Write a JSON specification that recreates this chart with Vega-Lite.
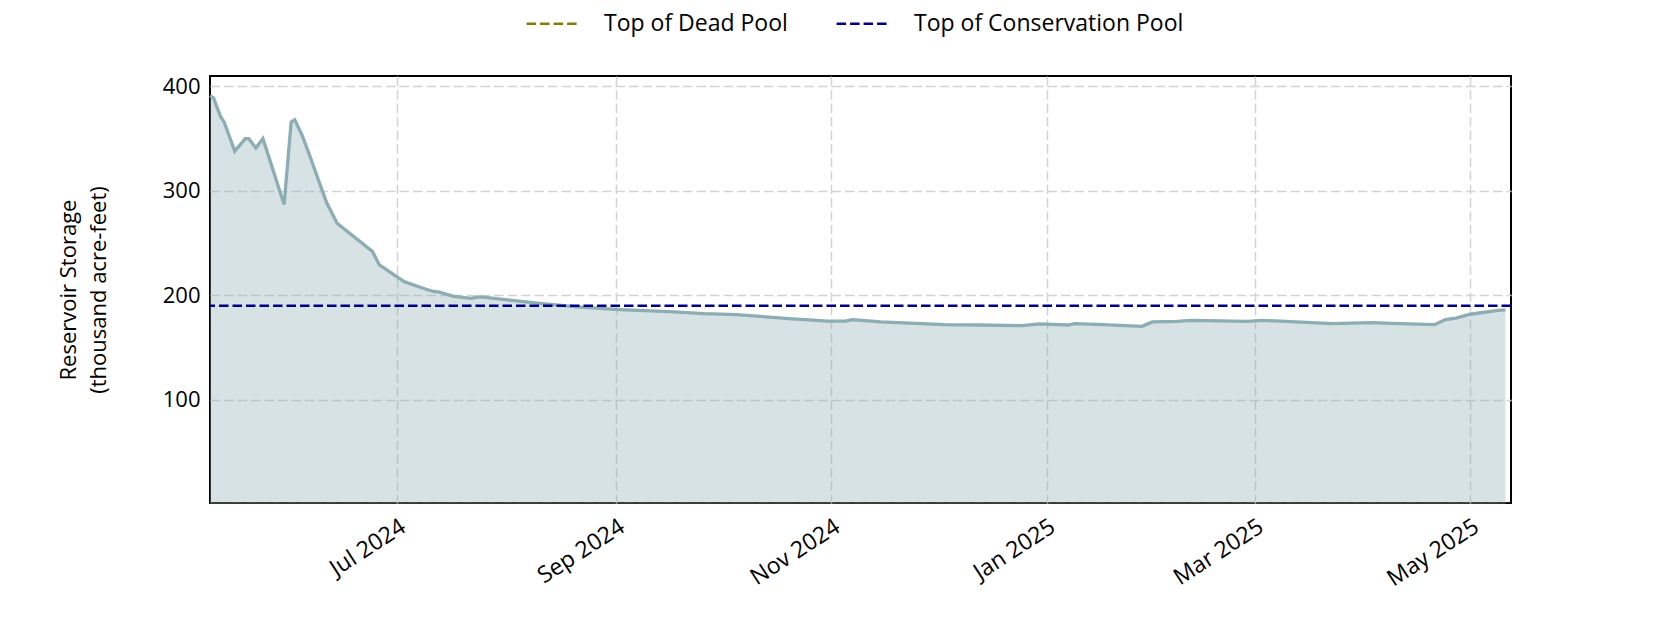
{
  "$schema": "https://vega.github.io/schema/vega-lite/v6.json",
  "autosize": {"type": "none"},
  "width": 1301,
  "height": 427,
  "padding": {"left": 210, "top": 76, "right": 169, "bottom": 127},
  "background": "white",
  "config": {
    "font": "Open Sans",
    "view": {"stroke": "black", "strokeWidth": 2},
    "axis": {"domain": false, "ticks": false, "grid": true, "gridColor": "#d3d3d3", "gridDash": [9.5, 4], "gridWidth": 1.5, "labelFont": "Open Sans", "labelFontSize": 22, "labelColor": "black", "titleFont": "Open Sans", "titleFontSize": 22, "titleFontWeight": "normal", "titleColor": "black"}
  },
  "datasets": {
    "storage": [
      {"date": "2024-05-09", "storage": 391},
      {"date": "2024-05-10", "storage": 389},
      {"date": "2024-05-12", "storage": 371},
      {"date": "2024-05-13", "storage": 366},
      {"date": "2024-05-16", "storage": 338},
      {"date": "2024-05-18", "storage": 346},
      {"date": "2024-05-19", "storage": 350},
      {"date": "2024-05-20", "storage": 350},
      {"date": "2024-05-22", "storage": 341},
      {"date": "2024-05-24", "storage": 350},
      {"date": "2024-05-30", "storage": 287},
      {"date": "2024-06-01", "storage": 366},
      {"date": "2024-06-02", "storage": 368},
      {"date": "2024-06-04", "storage": 354},
      {"date": "2024-06-06", "storage": 336},
      {"date": "2024-06-11", "storage": 289},
      {"date": "2024-06-14", "storage": 269},
      {"date": "2024-06-24", "storage": 242},
      {"date": "2024-06-26", "storage": 229},
      {"date": "2024-07-03", "storage": 213},
      {"date": "2024-07-09", "storage": 206},
      {"date": "2024-07-11", "storage": 204},
      {"date": "2024-07-13", "storage": 203},
      {"date": "2024-07-17", "storage": 199},
      {"date": "2024-07-22", "storage": 197},
      {"date": "2024-07-24", "storage": 198.4},
      {"date": "2024-07-26", "storage": 198},
      {"date": "2024-08-09", "storage": 192.6},
      {"date": "2024-08-21", "storage": 188.8},
      {"date": "2024-09-02", "storage": 186.3},
      {"date": "2024-09-16", "storage": 184.4},
      {"date": "2024-09-26", "storage": 182.4},
      {"date": "2024-10-05", "storage": 181.5},
      {"date": "2024-10-20", "storage": 177.6},
      {"date": "2024-10-31", "storage": 175.3},
      {"date": "2024-11-05", "storage": 175.3},
      {"date": "2024-11-07", "storage": 176.7},
      {"date": "2024-11-15", "storage": 174.4},
      {"date": "2024-12-03", "storage": 171.9},
      {"date": "2024-12-13", "storage": 171.5},
      {"date": "2024-12-25", "storage": 170.9},
      {"date": "2024-12-30", "storage": 172.5},
      {"date": "2025-01-07", "storage": 171.5},
      {"date": "2025-01-09", "storage": 172.8},
      {"date": "2025-01-17", "storage": 171.9},
      {"date": "2025-01-28", "storage": 170.2},
      {"date": "2025-01-31", "storage": 174.4},
      {"date": "2025-02-07", "storage": 175},
      {"date": "2025-02-11", "storage": 176},
      {"date": "2025-02-27", "storage": 175},
      {"date": "2025-03-03", "storage": 176},
      {"date": "2025-03-23", "storage": 172.8},
      {"date": "2025-04-03", "storage": 173.8},
      {"date": "2025-04-11", "storage": 172.8},
      {"date": "2025-04-21", "storage": 171.9},
      {"date": "2025-04-24", "storage": 176.7},
      {"date": "2025-04-27", "storage": 178},
      {"date": "2025-05-01", "storage": 181.8},
      {"date": "2025-05-09", "storage": 185.6},
      {"date": "2025-05-11", "storage": 185.9}
    ],
    "pools": [
      {"pool": "Top of Dead Pool", "value": 0},
      {"pool": "Top of Conservation Pool", "value": 190}
    ]
  },
  "layer": [
    {
      "data": {"name": "storage"},
      "mark": {"type": "area", "color": "#8badb3", "opacity": 0.35},
      "encoding": {
        "x": {"field": "date", "type": "temporal", "scale": {"domain": ["2024-05-09T00:00:00", "2025-05-12T14:00:00"]},
          "axis": {"title": null, "values": [{"year": 2024, "month": 7, "date": 1}, {"year": 2024, "month": 9, "date": 1}, {"year": 2024, "month": 11, "date": 1}, {"year": 2025, "month": 1, "date": 1}, {"year": 2025, "month": 3, "date": 1}, {"year": 2025, "month": 5, "date": 1}], "format": "%b %Y", "labelAngle": -33, "labelFontSize": 23, "labelAlign": "right", "labelBaseline": "top", "labelPadding": 12}},
        "y": {"field": "storage", "type": "quantitative", "scale": {"domain": [1, 410], "nice": false, "zero": false},
          "axis": {"title": ["Reservoir Storage", "(thousand acre-feet)"], "titleLineHeight": 30, "values": [100, 200, 300, 400], "labelPadding": 10, "titlePadding": 52}}
      }
    },
    {
      "data": {"name": "storage"},
      "mark": {"type": "line", "color": "#8badb3", "strokeWidth": 3.3},
      "encoding": {
        "x": {"field": "date", "type": "temporal"},
        "y": {"field": "storage", "type": "quantitative"}
      }
    },
    {
      "data": {"name": "pools"},
      "mark": {"type": "rule", "strokeDash": [9.5, 4], "strokeWidth": 2.5, "clip": true},
      "encoding": {
        "y": {"field": "value", "type": "quantitative"},
        "color": {"field": "pool", "type": "nominal",
          "scale": {"domain": ["Top of Dead Pool", "Top of Conservation Pool"], "range": ["#808000", "#00008b"]},
          "legend": {"title": null, "orient": "none", "legendX": 315, "legendY": -81, "direction": "horizontal", "symbolType": "stroke", "symbolStrokeWidth": 2.5, "symbolDash": [9.5, 4], "symbolSize": 2900, "labelFontSize": 23, "labelFont": "Open Sans", "labelColor": "black", "labelOffset": 22, "labelLimit": 0, "columnPadding": 43}}
      }
    }
  ]
}
